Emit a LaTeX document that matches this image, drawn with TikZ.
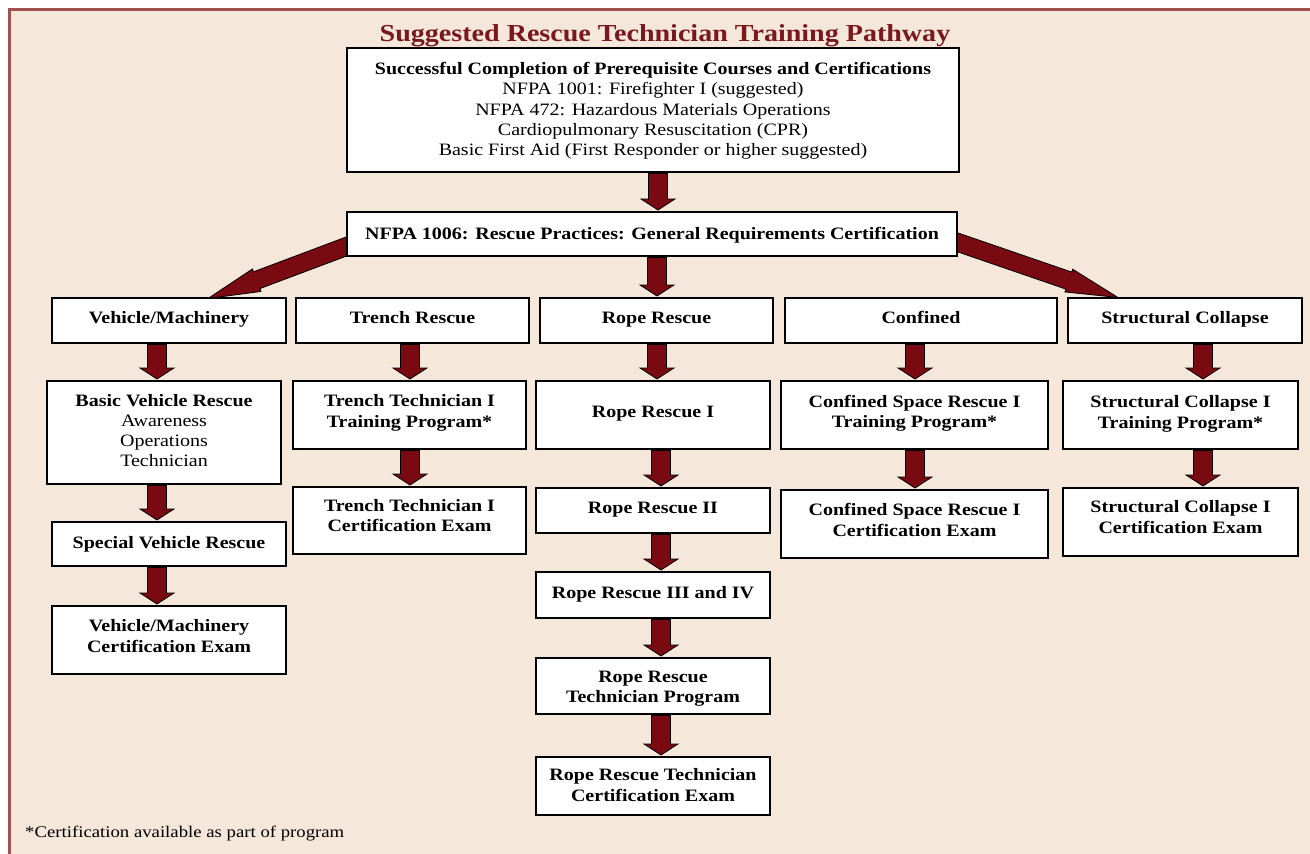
\documentclass[tikz,border=0pt]{standalone}
\usepackage{fontspec}
\setmainfont{Liberation Serif}[FakeStretch=1.15]
\usetikzlibrary{calc,backgrounds}
\definecolor{bgpeach}{RGB}{245,231,218}
\definecolor{bordr}{RGB}{160,82,80}
\definecolor{arrred}{RGB}{122,10,18}
\definecolor{titred}{RGB}{122,24,30}
\tikzset{
  boxst/.style={draw=black, line width=2pt, fill=white, rectangle, inner sep=0pt},
  txt/.style={align=center, inner sep=0pt, font=\fontsize{17.4}{20.3}\selectfont\bfseries},
  sl/.style={text height=12pt, text depth=3.8pt},
  barrow/.style={fill=arrred, draw=black, line width=0.8pt, line join=miter},
}
\newcommand\bx[7]{%
  \node[boxst, minimum width={#4-#2}, minimum height={#5-#3}] (#1) at ({(#2+#4)/2},{(#3+#5)/2}) {};
  \node[txt, #6] (#1t) at (#1.center) {#7};
}
\newcommand\varr[3]{%
  \coordinate (#2-#3-x) at (#1,0);
  \coordinate (#2-#3-s) at ($(#2-#3-x |- #2.south)+(0,0.5)$);
  \coordinate (#2-#3-e) at ($(#2-#3-x |- #3.north)+(0,-1)$);
  \draw[barrow] ($(#2-#3-s)+(-9.5,0)$) -- ($(#2-#3-e)+(-9.5,-11)$) -- ($(#2-#3-e)+(-17,-11)$)
     -- (#2-#3-e) -- ($(#2-#3-e)+(17,-11)$) -- ($(#2-#3-e)+(9.5,-11)$) -- ($(#2-#3-s)+(9.5,0)$) -- cycle;
}
\newcommand\darr[2]{%
  \coordinate (#1-#2-h) at ($(#2)!52pt!(#1)$);
  \draw[barrow] ($(#1)!9pt!90:(#2)$) -- ($(#1-#2-h)!9pt!90:(#2)$) -- ($(#1-#2-h)!12pt!90:(#2)$)
     -- (#2) -- ($(#1-#2-h)!12pt!-90:(#2)$) -- ($(#1-#2-h)!9pt!-90:(#2)$) -- ($(#1)!9pt!-90:(#2)$) -- cycle;
}
\begin{document}
\begin{tikzpicture}[x=1pt,y=-1pt]
\useasboundingbox (0,0) rectangle (1310,854);

\node[font=\fontsize{24.4}{28}\selectfont\bfseries, text=titred, inner sep=0pt] (title) at (665,35.5) {Suggested Rescue Technician Training Pathway};

\bx{pre}{347}{48}{959}{172}{yshift=-1pt}{Successful Completion of Prerequisite Courses and Certifications\\
  \mdseries NFPA 1001: Firefighter I (suggested)\\
  \mdseries NFPA 472: Hazardous Materials Operations\\
  \mdseries Cardiopulmonary Resuscitation (CPR)\\
  \mdseries Basic First Aid (First Responder or higher suggested)}
\bx{gen}{347}{212}{957}{256}{sl,yshift=-1pt}{NFPA 1006: Rescue Practices: General Requirements Certification}

\bx{veh}{52}{298}{286}{343}{sl,yshift=1pt}{Vehicle/Machinery}
\bx{tre}{296}{298}{529}{343}{sl,yshift=1pt}{Trench Rescue}
\bx{rop}{540}{298}{773}{343}{sl,yshift=1pt}{Rope Rescue}
\bx{con}{785}{298}{1057}{343}{sl,yshift=1pt}{Confined}
\bx{str}{1068}{298}{1302}{343}{sl,yshift=1pt}{Structural Collapse}

\bx{bvr}{47}{381}{281}{484}{yshift=2pt}{Basic Vehicle Rescue\\ \mdseries Awareness\\ \mdseries Operations\\ \mdseries Technician}
\bx{svr}{52}{522}{286}{566}{sl,yshift=0pt}{Special Vehicle Rescue}
\bx{vmx}{52}{606}{286}{674}{yshift=4pt}{Vehicle/Machinery\\ Certification Exam}

\bx{ttp}{293}{381}{526}{449}{yshift=2pt}{Trench Technician I\\ Training Program*}
\bx{ttx}{293}{487}{526}{554}{yshift=5pt}{Trench Technician I\\ Certification Exam}

\bx{r1}{536}{381}{770}{449}{sl,yshift=2pt}{Rope Rescue I}
\bx{r2}{536}{488}{770}{533}{sl,yshift=1pt}{Rope Rescue II}
\bx{r34}{536}{572}{770}{618}{sl,yshift=1pt}{Rope Rescue III and IV}
\bx{rtp}{536}{658}{770}{714}{yshift=-3pt}{Rope Rescue\\ Technician Program}
\bx{rtx}{536}{757}{770}{815}{yshift=1pt}{Rope Rescue Technician\\ Certification Exam}

\bx{ctp}{781}{381}{1048}{449}{yshift=2pt}{Confined Space Rescue I\\ Training Program*}
\bx{ctx}{781}{490}{1048}{558}{yshift=4pt}{Confined Space Rescue I\\ Certification Exam}

\bx{stp}{1063}{381}{1298}{449}{yshift=1pt}{Structural Collapse I\\ Training Program*}
\bx{stx}{1063}{488}{1298}{556}{yshift=5pt}{Structural Collapse I\\ Certification Exam}

\node[anchor=west, inner sep=0pt, font=\fontsize{16.3}{19}\selectfont] (fn) at (25,834) {*Certification available as part of program};

\varr{658}{pre}{gen}
\varr{657}{gen}{rop}
\varr{157}{veh}{bvr}
\varr{157}{bvr}{svr}
\varr{157}{svr}{vmx}
\varr{410}{tre}{ttp}
\varr{410}{ttp}{ttx}
\varr{657}{rop}{r1}
\varr{661}{r1}{r2}
\varr{661}{r2}{r34}
\varr{661}{r34}{rtp}
\varr{661}{rtp}{rtx}
\varr{915}{con}{ctp}
\varr{915}{ctp}{ctx}
\varr{1203}{str}{stp}
\varr{1203}{stp}{stx}

\coordinate (ls) at ($(gen.west)+(15,7)$);
\coordinate (lt) at ($(veh.north)+(39,1.5)$);
\coordinate (rs) at ($(gen.east)+(-13,4)$);
\coordinate (rt) at ($(str.north)+(-67,0.5)$);

\begin{pgfonlayer}{background}
  \fill[white] (0,0) rectangle (1310,854);
  \draw[bordr, line width=2.5pt, fill=bgpeach] (9.5,9.5) rectangle (1340,890);
  \darr{ls}{lt}
  \darr{rs}{rt}
\end{pgfonlayer}
\end{tikzpicture}
\end{document}
